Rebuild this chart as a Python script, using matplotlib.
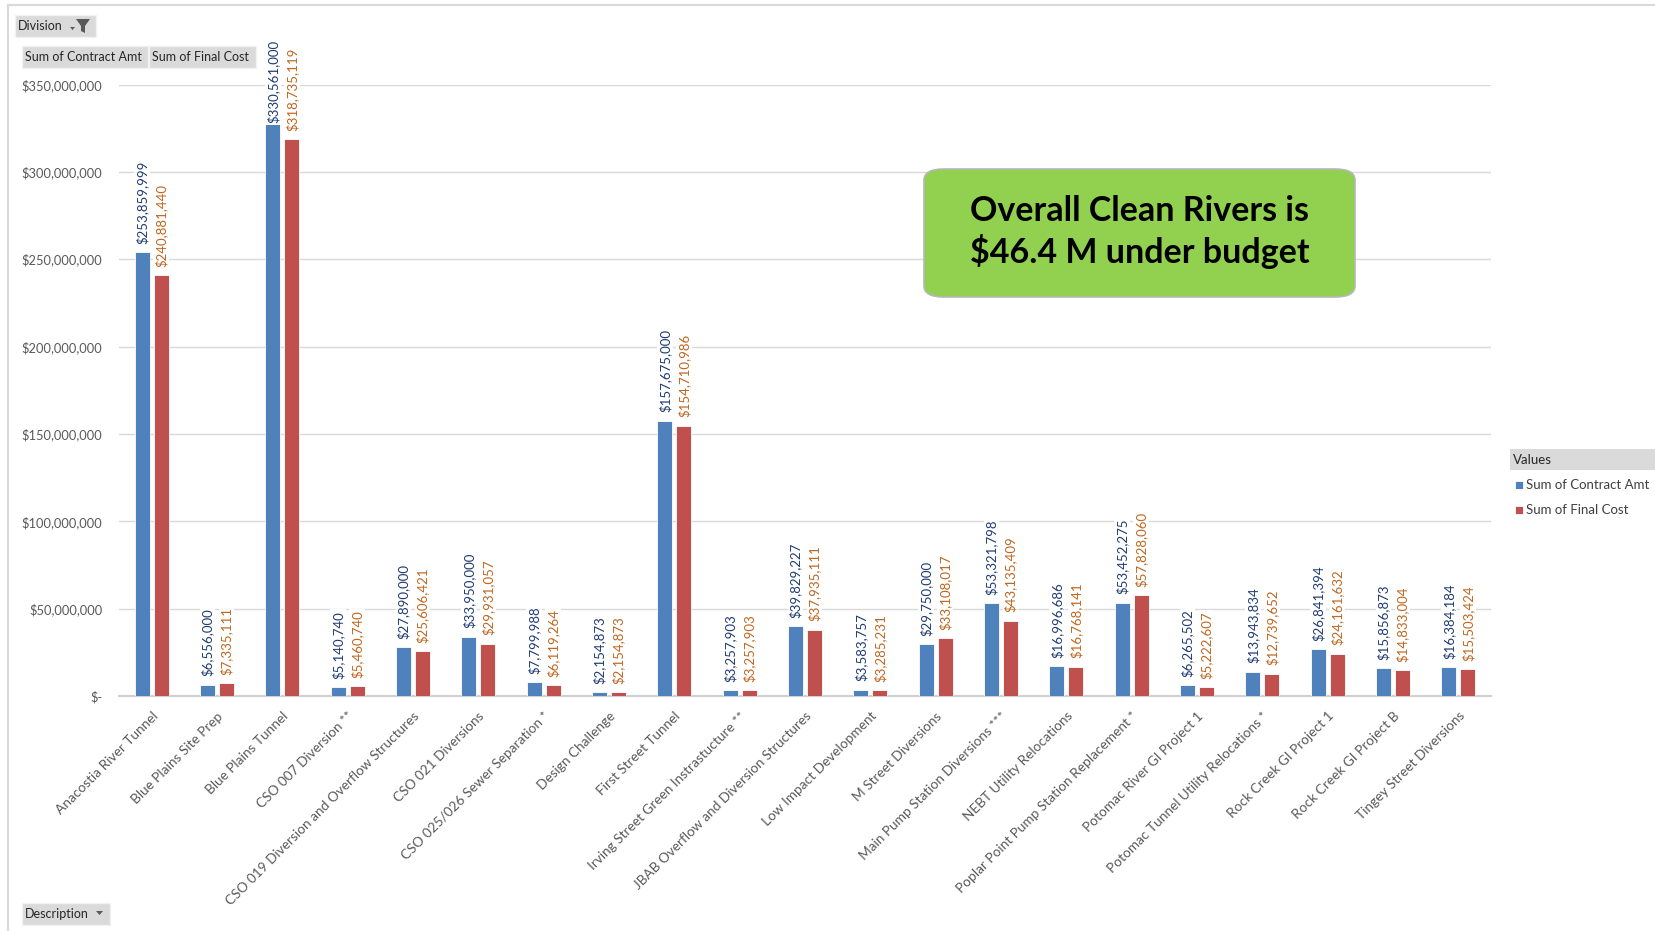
import numpy as np
import matplotlib
matplotlib.use("Agg")
import matplotlib.pyplot as plt
from matplotlib.patches import Rectangle, FancyBboxPatch, Polygon
from matplotlib.lines import Line2D
from matplotlib.ticker import FuncFormatter

plt.rcParams['font.family'] = ['Lato', 'DejaVu Sans']

# data
projects = ["Anacostia River Tunnel", "Blue Plains Site Prep", "Blue Plains Tunnel",
            "CSO 007 Diversion **", "CSO 019 Diversion and Overflow Structures",
            "CSO 021 Diversions", "CSO 025/026 Sewer Separation *", "Design Challenge",
            "First Street Tunnel", "Irving Street Green Instrastucture **",
            "JBAB Overflow and Diversion Structures", "Low Impact Development",
            "M Street Diversions", "Main Pump Station Diversions ***",
            "NEBT Utility Relocations", "Poplar Point Pump Station Replacement *",
            "Potomac River GI Project 1", "Potomac Tunnel Utility Relocations *",
            "Rock Creek GI Project 1", "Rock Creek GI Project B", "Tingey Street Diversions"]
contract_amt = [253859999, 6556000, 330561000, 5140740, 27890000, 33950000, 7799988,
                2154873, 157675000, 3257903, 39829227, 3583757, 29750000, 53321798,
                16996686, 53452275, 6265502, 13943834, 26841394, 15856873, 16384184]
final_cost = [240881440, 7335111, 318735119, 5460740, 25606421, 29931057, 6119264,
              2154873, 154710986, 3257903, 37935111, 3285231, 33108017, 43135409,
              16768141, 57828060, 5222607, 12739652, 24161632, 14833004, 15503424]
series_names = ["Sum of Contract Amt", "Sum of Final Cost"]

W, H = 1656, 931
fig = plt.figure(figsize=(W / 100, H / 100), dpi=100)

def fx(px):
    return px / W

def fy(py):
    return 1 - py / H

ax = fig.add_axes([fx(119), fy(696), fx(1491) - fx(119), fy(84.5) - fy(696)])

blue, red = '#4F81BD', '#C0504D'
blue_lbl, red_lbl = '#1F3B73', '#C0661F'
grey_txt = '#595959'

x = np.arange(len(projects))
bw, off = 0.23, 0.146
b1 = ax.bar(x - off, contract_amt, bw, color=blue, edgecolor='white', linewidth=0.6, zorder=3,
            label=series_names[0])
b2 = ax.bar(x + off, final_cost, bw, color=red, edgecolor='white', linewidth=0.6, zorder=3,
            label=series_names[1])

ax.set_xlim(-0.5, len(projects) - 0.5)
ax.set_ylim(0, 350e6)
ax.set_yticks(np.arange(0, 350e6 + 1, 50e6))
ax.yaxis.set_major_formatter(FuncFormatter(lambda v, p: "$-" if v == 0 else "${:,.0f}".format(v)))
ax.grid(axis='y', color='#D9D9D9', linewidth=1.0, zorder=0)
ax.set_axisbelow(True)
for s in ['top', 'right', 'left']:
    ax.spines[s].set_visible(False)
ax.spines['bottom'].set_color('#D0D0D0')
ax.spines['bottom'].set_linewidth(1.5)
ax.tick_params(axis='both', length=0, colors=grey_txt, labelsize=9.8)
ax.tick_params(axis='y', pad=12, labelsize=9.3)
ax.set_xticks(x)
ax.set_xticklabels(projects, rotation=45, ha='right', rotation_mode='anchor')
ax.tick_params(axis='x', pad=10)

# data labels (white box hides the gridlines, like excel)
def add_labels(bars, vals, color):
    for rect, v in zip(bars, vals):
        cx = rect.get_x() + rect.get_width() / 2
        txt = "${:,.0f}".format(v)
        kw = dict(rotation=90, ha='center', color=color, fontsize=9.5, zorder=5,
                  annotation_clip=False,
                  bbox=dict(facecolor='white', edgecolor='none', pad=1.0))
        if v > 325e6:
            # excel pushes this one back inside the chart area
            ax.annotate(txt, xy=(cx, 1.0), xycoords=('data', 'axes fraction'),
                        xytext=(0, 32), textcoords='offset points', va='top', **kw)
        else:
            ax.annotate(txt, xy=(cx, v), xytext=(0, 6), textcoords='offset points',
                        va='bottom', **kw)

add_labels(b1, contract_amt, blue_lbl)
add_labels(b2, final_cost, red_lbl)

# callout box
box = FancyBboxPatch((fx(924), fy(297)), fx(1355) - fx(924), fy(169) - fy(297),
                     boxstyle="round,pad=0,rounding_size=0.012", transform=fig.transFigure,
                     facecolor='#92D050', edgecolor='#B7B7B7', linewidth=1.2, zorder=6)
fig.patches.append(box)
fig.text(fx(1139.5), fy(232), "Overall Clean Rivers is\n$46.4 M under budget",
         ha='center', va='center', fontsize=24.5, fontweight='bold', color='black',
         linespacing=1.25, zorder=7)

# frame lines of the pivot chart
fig.lines.append(Line2D([fx(8), 1], [fy(5), fy(5)], transform=fig.transFigure, color='#D9D9D9', lw=1.5))
fig.lines.append(Line2D([fx(8), fx(8)], [fy(5), 0], transform=fig.transFigure, color='#D9D9D9', lw=1.5))

# pivot field buttons
def button(x0, y0, x1, y1, text):
    r = Rectangle((fx(x0), fy(y1)), fx(x1) - fx(x0), fy(y0) - fy(y1), transform=fig.transFigure,
                  facecolor='#DADADA', edgecolor='#F2F2F2', linewidth=1.0)
    fig.patches.append(r)
    fig.text(fx(x0 + 3), fy((y0 + y1) / 2), text, ha='left', va='center',
             fontsize=9, color='#262626')

button(15, 15, 96, 37, "Division")
fig.patches.append(Polygon([[fx(76), fy(19)], [fx(90), fy(19)], [fx(85), fy(26)], [fx(85), fy(33)],
                            [fx(81), fy(31)], [fx(81), fy(26)]], closed=True,
                           transform=fig.transFigure, facecolor='#595959', edgecolor='none'))
fig.patches.append(Polygon([[fx(70), fy(27)], [fx(75), fy(27)], [fx(72.5), fy(30)]], closed=True,
                           transform=fig.transFigure, facecolor='#595959', edgecolor='none'))
button(22, 46, 148, 68, "Sum of Contract Amt")
button(149, 46, 256, 68, "Sum of Final Cost")
button(22, 903, 110, 925, "Description")
fig.patches.append(Polygon([[fx(96), fy(911)], [fx(103), fy(911)], [fx(99.5), fy(915)]], closed=True,
                           transform=fig.transFigure, facecolor='#595959', edgecolor='none'))

# legend
fig.patches.append(Rectangle((fx(1510), fy(470)), fx(1656) - fx(1510), fy(449) - fy(470),
                             transform=fig.transFigure, facecolor='#DADADA', edgecolor='none'))
fig.text(fx(1513), fy(459.5), "Values", ha='left', va='center', fontsize=9.5, color='#262626')
fig.legend(handles=[b1, b2], labels=series_names, loc='upper left',
           bbox_to_anchor=(fx(1510), fy(474)), frameon=False, fontsize=9.5,
           handlelength=0.55, handleheight=0.55, handletextpad=0.3, labelspacing=1.0,
           labelcolor='#404040', borderaxespad=0)

fig.savefig("out.png", dpi=100)
